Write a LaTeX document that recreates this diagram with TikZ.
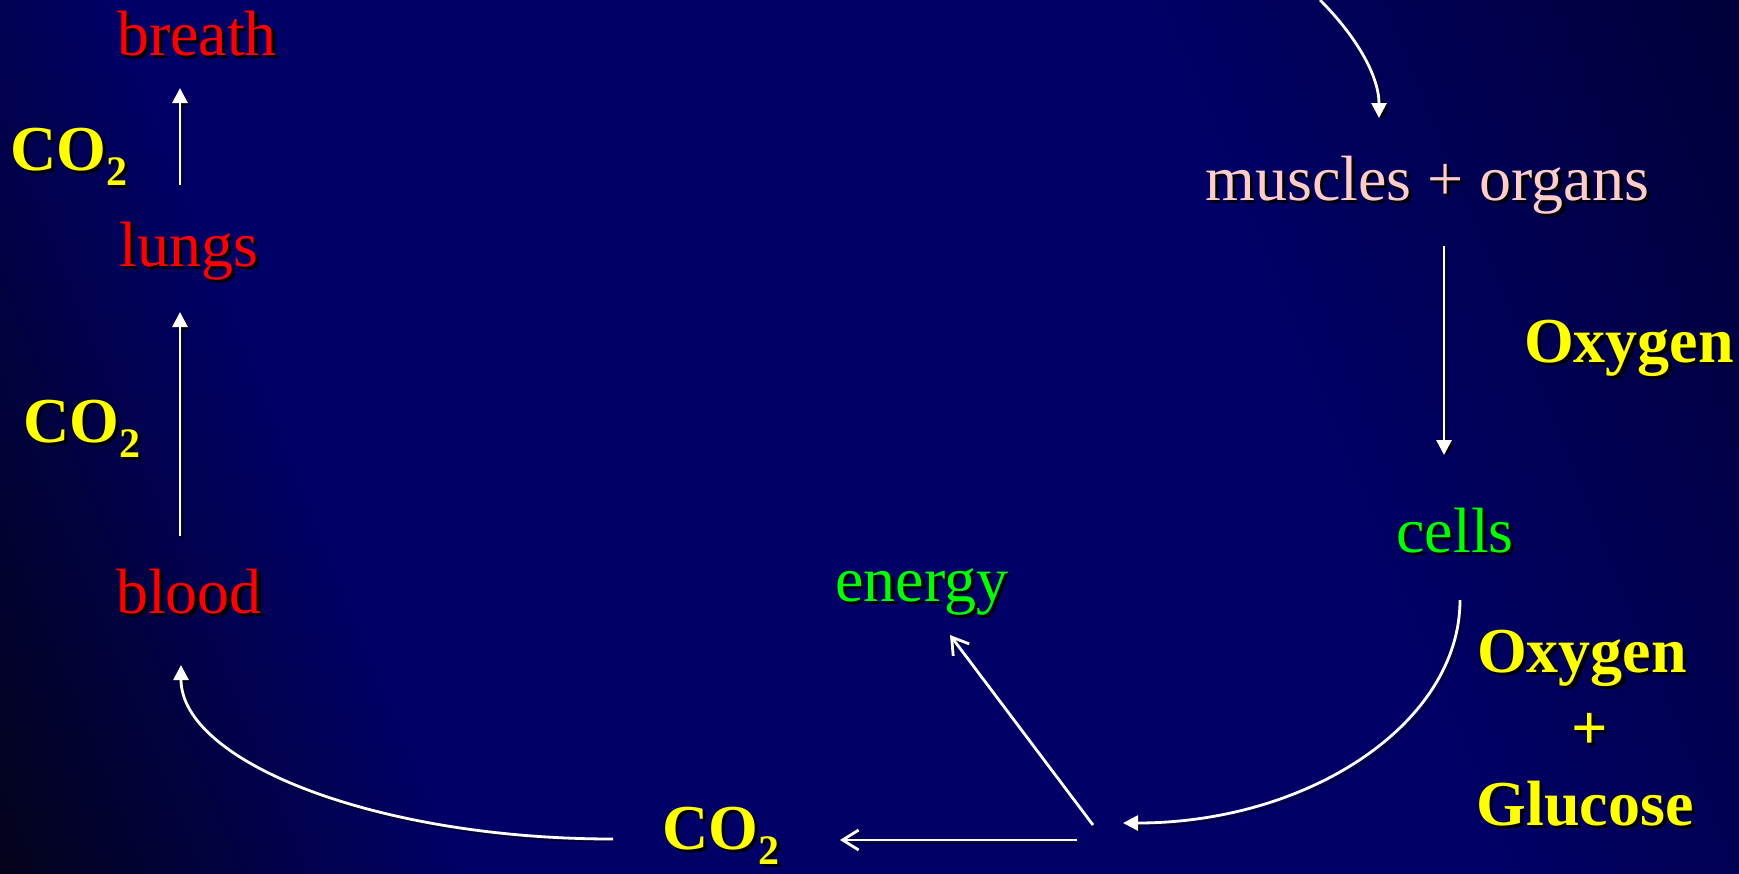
\documentclass[tikz,border=0pt]{standalone}
\usepackage{fontspec}
\setmainfont{Liberation Serif}
\usetikzlibrary{arrows.meta}
\definecolor{bgdark}{RGB}{3,3,30}
\definecolor{bgnavy}{RGB}{0,0,102}
\definecolor{bgtr}{RGB}{0,0,56}
\definecolor{txtred}{RGB}{255,0,0}
\definecolor{txtyel}{RGB}{255,255,0}
\definecolor{txtgrn}{RGB}{0,255,0}
\definecolor{txtpink}{RGB}{255,204,204}
\pgfdeclareverticalshading{bgshade}{100bp}{color(0bp)=(bgdark); color(18bp)=(bgdark); color(32bp)=(bgnavy); color(64bp)=(bgnavy); color(83bp)=(bgtr); color(100bp)=(bgtr)}
\newcommand\shd[2]{\makebox[0pt][l]{\kern1.6pt\raisebox{-1.6pt}{\color{black}#2}}{\color{#1}#2}}
\newcommand\cotwo{CO\raisebox{-7.5pt}{\fontsize{21}{21}\selectfont 2}}
\tikzset{
  lbl/.style={inner sep=0pt, font=\fontsize{32}{38}\selectfont},
  blbl/.style={inner sep=0pt, font=\fontsize{32}{38}\selectfont\bfseries},
  conn/.style={draw=white, line width=1.4pt,
    preaction={draw=black, transform canvas={shift={(1.5pt,-1.5pt)}}}},
  solidtip/.style={-{Triangle[length=7.5pt,width=7.5pt]}},
  opentip/.style={-{Straight Barb[length=8pt,width=10pt]}},
}
\begin{document}
\begin{tikzpicture}[x=0.5pt,y=-0.5pt]
\shade[shading=bgshade, shading angle=-68] (0,0) rectangle (1739,873);
\path[use as bounding box] (0,0) rectangle (1739,873);
% text nodes
\node[lbl, anchor=base] (breath) at (197,55) {\shd{txtred}{breath}};
\node[blbl, anchor=base west] (co2a) at (10,170) {\shd{txtyel}{\cotwo}};
\node[lbl, anchor=base] (lungs) at (189,266) {\shd{txtred}{lungs}};
\node[blbl, anchor=base west] (co2b) at (23,442) {\shd{txtyel}{\cotwo}};
\node[lbl, anchor=base] (blood) at (189,613) {\shd{txtred}{blood}};
\node[blbl, anchor=base west] (co2c) at (662,849) {\shd{txtyel}{\cotwo}};
\node[lbl, anchor=base] (energy) at (922,601) {\shd{txtgrn}{energy}};
\node[lbl, anchor=base] (cells) at (1455,552) {\shd{txtgrn}{cells}};
\node[blbl, anchor=base] (oxy) at (1629,362) {\shd{txtyel}{Oxygen}};
\node[blbl, anchor=base] (oxy2) at (1582,672) {\shd{txtyel}{Oxygen}};
\node[blbl, anchor=base] (plus) at (1590,749) {\shd{txtyel}{+}};
\node[blbl, anchor=base] (gluc) at (1585,825) {\shd{txtyel}{Glucose}};
\node[lbl, anchor=base west] (muscles) at (1205,200) {\shd{txtpink}{muscles + organs}};
% connector ends
\coordinate (topin) at (1320,0);
\coordinate (topend) at (1379,118);
\coordinate (mus0) at (1444,246);
\coordinate (mus1) at (1444,455);
\coordinate (cel0) at (1460,600);
\coordinate (cel1) at (1123,823);
\coordinate (ene0) at (1093,825);
\coordinate (ene1) at (950,635);
\coordinate (cob0) at (1077,840);
\coordinate (cob1) at (840,840);
\coordinate (bl0) at (613,839);
\coordinate (bl1) at (181,665);
\coordinate (lu0) at (180,536);
\coordinate (lu1) at (180,312);
\coordinate (br0) at (180,185);
\coordinate (br1) at (180,88);
% connectors
\draw[conn, solidtip] (topin) .. controls (1355,35) and (1379,75) .. (topend);
\draw[conn, solidtip] (mus0) -- (mus1);
\draw[conn, solidtip] (cel0) .. controls (1460,723) and (1309,823) .. (cel1);
\draw[conn, opentip] (ene0) -- (ene1);
\draw[conn, opentip] (cob0) -- (cob1);
\draw[conn, solidtip] (bl0) .. controls (374,839) and (181,761) .. (bl1);
\draw[conn, solidtip] (lu0) -- (lu1);
\draw[conn, solidtip] (br0) -- (br1);
\end{tikzpicture}
\end{document}
